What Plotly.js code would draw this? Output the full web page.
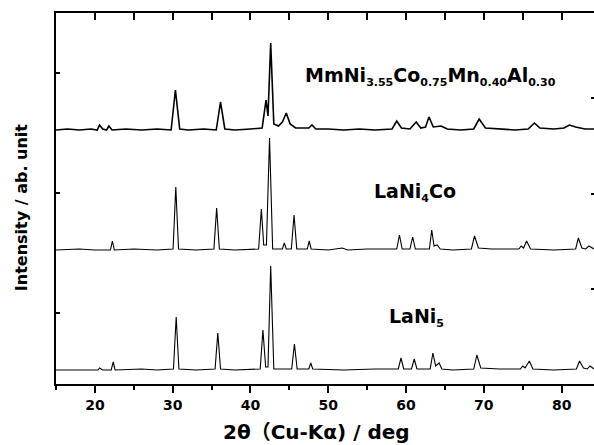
<!DOCTYPE html>
<html>
<head>
<meta charset="utf-8">
<script src="https://cdn.plot.ly/plotly-3.0.1.min.js"></script>
<style>html,body{margin:0;padding:0;background:#fff;}#chart{width:594px;height:445px;}</style>
</head>
<body>
<div id="chart"></div>
<script>
// Series names
const seriesNames = ["LaNi5", "LaNi4Co", "MmNi3.55Co0.75Mn0.40Al0.30"];
// Vertical offsets of each pattern (stacked, arbitrary units)
const seriesOffsets = [0.025, 1.025, 2.025];

// LaNi5 pattern: 2θ (deg) and intensity above baseline (arb. counts, 120 = 1 unit)
const lani5X = [15,18,20.4,20.6,21,22.1,22.35,22.6,26,28,30.1,30.45,30.8,33,35.45,35.8,36.15,38,41.25,41.6,41.95,42.25,42.6,43.0,45.3,45.65,46.0,47.5,47.75,48.0,52,56,59.0,59.35,59.7,60.7,61.05,61.4,63.1,63.45,63.8,64.25,64.6,66,68.7,69.1,69.6,72,74.7,75.0,75.3,75.85,76.3,79,81.9,82.3,82.8,83.3,83.65,84.16];
const lani5I = [0,0,0,2,0,0,8,0,1,0,1,53,1,0,1,37,1,0,1,40,3,3,104,1,1,26,1,1,7,1,0,1,1,12,1,1,11,1,1,17,4,7,1,0,1,15,2,1,1,4,2,9,1,0,1,9,2,1,4,1];

// LaNi4Co pattern
const lani4coX = [15,18,20,22.0,22.25,22.5,25,28,30.05,30.4,30.75,33,35.3,35.65,36.0,38,41.05,41.4,41.7,42.05,42.45,42.85,44.1,44.35,44.6,45.25,45.6,45.95,47.3,47.55,47.8,50,51.8,52.5,55,58.8,59.15,59.5,60.5,60.85,61.2,63.0,63.3,63.6,64.0,64.4,66,68.4,68.8,69.3,71,74.5,74.8,75.1,75.5,76.0,79,81.8,82.15,82.6,83.1,83.5,84.16];
const lani4coI = [0,1,0,0,9,0,1,0,1,63,1,0,1,42,1,0,1,41,5,5,112,1,1,7,1,1,35,1,1,9,1,0,2,0,1,1,15,1,1,13,1,1,20,4,5,1,0,1,14,2,1,1,4,2,9,1,0,1,12,2,1,4,1];

// MmNi3.55Co0.75Mn0.40Al0.30 pattern
const mmX = [15,16.5,18,19.5,20.3,20.6,21,21.5,21.8,22.2,24,26,28,29.8,30.35,30.9,32,34,35.6,36.15,36.7,38,40,41.5,42.0,42.25,42.6,43.0,43.6,44.1,44.6,45.1,45.8,47.5,47.9,48.4,50,52,54,56,58.2,58.8,59.4,60.5,61.3,61.9,62.5,62.95,63.5,64.5,65.3,67,68.7,69.4,70.2,72,74,75.7,76.5,77.2,79,80.3,81.0,81.8,83,84.16];
const mmI = [0,1,0,1,0,5,1,0,4,0,1,0,1,0,40,1,0,1,0,28,1,0,1,2,30,14,87,6,4,8,17,6,2,2,5,1,1,0,1,0,1,9,2,1,8,2,3,13,3,4,1,0,1,11,2,1,0,1,7,2,1,2,5,3,1,1];

// Axis ticks
const xTickVals = [20, 30, 40, 50, 60, 70, 80];
const xTickText = ["20", "30", "40", "50", "60", "70", "80"];
const yLeftTicks = [0.5, 1.5, 2.5];
const yRightTicks = [0.7, 1.49, 2.29];

// Texts
const xTitle = "2θ（Cu-Kα) / deg";
const yTitle = "Intensity / ab. unit";

const countsPerUnit = 120;
const FONT = "DejaVu Sans, Noto Sans CJK JP, sans-serif";
const sub = s => '<sub><span style="font-size:11px">' + s + '</span></sub>';

function stack(xs, is, k) {
  return {
    x: xs,
    y: is.map(v => v / countsPerUnit + seriesOffsets[k]),
    type: "scatter", mode: "lines", name: seriesNames[k],
    line: {color: "#000", width: k === 2 ? 1.6 : 1.1},
    hoverinfo: "x+y+name", showlegend: false
  };
}

const traces = [
  stack(lani5X, lani5I, 0),
  stack(lani4coX, lani4coI, 1),
  stack(mmX, mmI, 2),
  {x: [], y: [], xaxis: "x2", yaxis: "y2", type: "scatter", mode: "lines", showlegend: false}
];

const xr = [15, 84.16];
const yr = [-0.0917, 3.0];

const layout = {
  width: 594, height: 445,
  margin: {l: 56, r: 0, t: 13, b: 61, pad: 0},
  paper_bgcolor: "#fff", plot_bgcolor: "#fff",
  font: {family: FONT, color: "#000", weight: "bold"},
  xaxis: {
    range: xr, showline: true, linewidth: 2, linecolor: "#000",
    ticks: "outside", ticklen: 7, tickwidth: 2, tickcolor: "#000",
    tickvals: xTickVals, ticktext: xTickText,
    tickfont: {family: FONT, size: 14, weight: "bold"},
    minor: {ticks: "outside", ticklen: 4, tickwidth: 2, tickcolor: "#000", dtick: 5, tick0: 15, showgrid: false},
    showgrid: false, zeroline: false
  },
  xaxis2: {
    range: xr, overlaying: "x", side: "top", anchor: "y",
    showline: true, linewidth: 2, linecolor: "#000",
    ticks: "inside", ticklen: 7, tickwidth: 2, tickcolor: "#000",
    dtick: 5, tick0: 0, showticklabels: false, showgrid: false, zeroline: false
  },
  yaxis: {
    range: yr, showline: true, linewidth: 2, linecolor: "#000",
    ticks: "inside", ticklen: 4, tickwidth: 2, tickcolor: "#000",
    tickvals: yLeftTicks, showticklabels: false, showgrid: false, zeroline: false
  },
  yaxis2: {
    range: yr, overlaying: "y", side: "right", anchor: "x",
    showline: false, ticks: "inside", ticklen: 3, tickwidth: 2, tickcolor: "#000",
    tickvals: yRightTicks, showticklabels: false, showgrid: false, zeroline: false
  },
  annotations: [
    {xref: "paper", yref: "paper", x: 0.485, y: -0.129, xanchor: "center", yanchor: "middle", showarrow: false,
     text: xTitle, font: {family: FONT, size: 20, weight: "bold"}},
    {xref: "paper", yref: "paper", x: -0.065, y: 0.474, xanchor: "center", yanchor: "middle", showarrow: false,
     textangle: -90, text: yTitle, font: {family: FONT, size: 16, weight: "bold"}},
    {xref: "paper", yref: "paper", x: 0.697, y: 0.8275, xanchor: "center", yanchor: "middle", showarrow: false,
     text: "MmNi" + sub("3.55") + "Co" + sub("0.75") + "Mn" + sub("0.40") + "Al" + sub("0.30"),
     font: {family: FONT, size: 19, weight: "bold"}},
    {xref: "paper", yref: "paper", x: 0.667, y: 0.515, xanchor: "center", yanchor: "middle", showarrow: false,
     text: "LaNi" + sub("4") + "Co", font: {family: FONT, size: 19, weight: "bold"}},
    {xref: "paper", yref: "paper", x: 0.670, y: 0.178, xanchor: "center", yanchor: "middle", showarrow: false,
     text: "LaNi" + sub("5"), font: {family: FONT, size: 19, weight: "bold"}}
  ]
};

Plotly.newPlot("chart", traces, layout, {staticPlot: true, displayModeBar: false});
</script>
</body>
</html>
